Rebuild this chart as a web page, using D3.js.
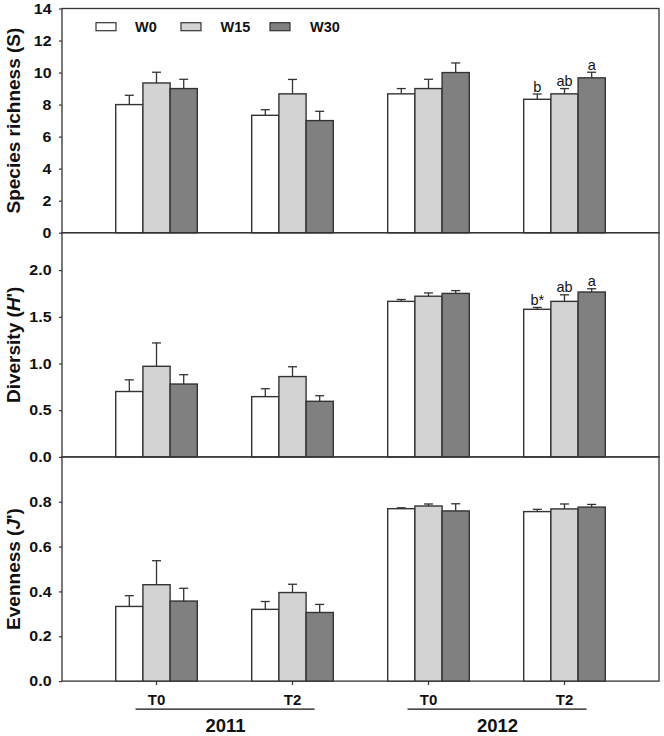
<!DOCTYPE html>
<html>
<head>
<meta charset="utf-8">
<script src="https://cdn.jsdelivr.net/npm/d3@7"></script>
<style>
  html, body { margin: 0; padding: 0; background: #fff; }
  svg { display: block; font-family: "Liberation Sans", Arial, sans-serif; }
</style>
</head>
<body>
<svg id="chart" width="664" height="736"></svg>
<script>
// ---- data ----
const groupKeys = ["2011-T0", "2011-T2", "2012-T0", "2012-T2"];
const groupLabels = ["T0", "T2", "T0", "T2"];
const years = ["2011", "2012"];
const series = ["W0", "W15", "W30"];
const seriesColors = ["#ffffff", "#d3d3d3", "#808080"];

const richness    = [[8.0, 9.35, 9.0], [7.33, 8.67, 7.0], [8.67, 9.0, 10.0], [8.33, 8.67, 9.67]];
const richnessErr = [[0.58, 0.67, 0.58], [0.35, 0.9, 0.58], [0.33, 0.58, 0.6], [0.33, 0.33, 0.35]];
const richnessLetters = [null, null, null, ["b", "ab", "a"]];

const diversity    = [[0.70, 0.97, 0.78], [0.645, 0.86, 0.595], [1.665, 1.72, 1.75], [1.58, 1.665, 1.765]];
const diversityErr = [[0.125, 0.25, 0.10], [0.085, 0.105, 0.06], [0.02, 0.035, 0.03], [0.02, 0.07, 0.035]];
const diversityLetters = [null, null, null, ["b*", "ab", "a"]];

const evenness    = [[0.333, 0.43, 0.357], [0.32, 0.395, 0.306], [0.769, 0.781, 0.759], [0.756, 0.768, 0.776]];
const evennessErr = [[0.048, 0.107, 0.057], [0.035, 0.037, 0.036], [0.004, 0.009, 0.032], [0.01, 0.022, 0.012]];

const richnessTicks  = [0, 2, 4, 6, 8, 10, 12, 14];
const diversityTicks = [0, 0.5, 1.0, 1.5, 2.0];
const evennessTicks  = [0, 0.2, 0.4, 0.6, 0.8];

// ---- layout ----
const svg = d3.select("#chart");
const left = 62, right = 659;
const panelTop = 8.5, panelH = 224.2;
const stroke = "#333";
const stretch = 1.1;

const x0 = d3.scaleBand().domain(groupKeys).range([left, right]).paddingInner(0.4).paddingOuter(0.395);
const x1 = d3.scaleBand().domain(series).range([0, x0.bandwidth()]).padding(0);

const panels = [
  { vals: richness, errs: richnessErr, letters: richnessLetters, max: 14, ticks: richnessTicks, fmt: d3.format("d"),
    title: [{ t: "Species richness (S)" }] },
  { vals: diversity, errs: diversityErr, letters: diversityLetters, max: 2.4, ticks: diversityTicks, fmt: d3.format(".1f"),
    title: [{ t: "Diversity (" }, { t: "H", i: true }, { t: "')" }] },
  { vals: evenness, errs: evennessErr, letters: null, max: 1.0, ticks: evennessTicks, fmt: d3.format(".1f"),
    title: [{ t: "Evenness (" }, { t: "J", i: true }, { t: "')" }] }
];

panels.forEach((p, pi) => {
  const top = panelTop + pi * panelH, bottom = top + panelH;
  const y = d3.scaleLinear().domain([0, p.max]).range([bottom, top]);
  const g = svg.append("g");

  // frame
  g.append("rect").attr("x", left).attr("y", top).attr("width", right - left).attr("height", panelH)
    .attr("fill", "none").attr("stroke", stroke).attr("stroke-width", 1.3);

  // y axis
  const ax = g.append("g").attr("transform", `translate(${left},0)`)
    .call(d3.axisLeft(y).tickValues(p.ticks).tickFormat(p.fmt).tickSize(3).tickPadding(7));
  ax.select(".domain").remove();
  ax.selectAll(".tick line").attr("stroke", stroke).attr("stroke-width", 1.2);
  ax.selectAll(".tick text").attr("font-size", 14.5).attr("font-weight", "bold").attr("fill", "#111")
    .attr("font-family", "Liberation Sans, Arial, sans-serif")
    .attr("x", -10.5 / stretch).attr("transform", `scale(${stretch},1)`);

  // bars
  groupKeys.forEach((gk, gi) => {
    const gg = g.append("g").attr("transform", `translate(${x0(gk)},0)`);
    series.forEach((s, si) => {
      const v = p.vals[gi][si], e = p.errs[gi][si];
      const bx = x1(s), bw = x1.bandwidth(), cx = bx + bw / 2;
      // error bar (upper)
      gg.append("line").attr("x1", cx).attr("x2", cx).attr("y1", y(v)).attr("y2", y(v + e))
        .attr("stroke", stroke).attr("stroke-width", 1.3);
      gg.append("line").attr("x1", cx - 4.5).attr("x2", cx + 4.5).attr("y1", y(v + e)).attr("y2", y(v + e))
        .attr("stroke", stroke).attr("stroke-width", 1.3);
      gg.append("rect").attr("x", bx).attr("y", y(v)).attr("width", bw).attr("height", y(0) - y(v))
        .attr("fill", seriesColors[si]).attr("stroke", stroke).attr("stroke-width", 1.4);
      if (p.letters && p.letters[gi]) {
        gg.append("text").attr("x", cx).attr("y", y(v + e) - 2.5).attr("text-anchor", "middle")
          .attr("font-size", 14.5).attr("fill", "#111").text(p.letters[gi][si]);
      }
    });
  });

  // axis title
  const tt = svg.append("text")
    .attr("transform", `translate(13,${(top + bottom) / 2}) rotate(-90)`)
    .attr("text-anchor", "middle").attr("dy", "0.35em")
    .attr("font-size", 19).attr("font-weight", "bold").attr("fill", "#111");
  p.title.forEach(part => {
    tt.append("tspan").attr("font-style", part.i ? "italic" : "normal").text(part.t);
  });
});

// x axis ticks & labels under bottom panel
const baseY = panelTop + 3 * panelH;
groupKeys.forEach((gk, gi) => {
  const cx = x0(gk) + x0.bandwidth() / 2;
  svg.append("line").attr("x1", cx).attr("x2", cx).attr("y1", baseY).attr("y2", baseY + 4)
    .attr("stroke", stroke).attr("stroke-width", 1.2);
  svg.append("text").attr("x", cx).attr("y", baseY + 24).attr("text-anchor", "middle")
    .attr("font-size", 15).attr("font-weight", "bold").attr("fill", "#111").text(groupLabels[gi]);
});

// year lines and labels
years.forEach((yr, yi) => {
  const a = x0(groupKeys[yi * 2]) + x0.bandwidth() / 2;
  const b = x0(groupKeys[yi * 2 + 1]) + x0.bandwidth() / 2;
  svg.append("line").attr("x1", a - 21).attr("x2", b + 22).attr("y1", baseY + 28).attr("y2", baseY + 28)
    .attr("stroke", "#111").attr("stroke-width", 1.3);
  svg.append("text").attr("x", (a + b) / 2 + 1).attr("y", baseY + 50.5).attr("text-anchor", "middle")
    .attr("font-size", 18.5).attr("font-weight", "bold").attr("fill", "#111").text(yr);
});

// legend
const legX = [96, 181, 270], legTxt = [135, 220.5, 310];
series.forEach((s, si) => {
  svg.append("rect").attr("x", legX[si]).attr("y", 22.7).attr("width", 20).attr("height", 8)
    .attr("fill", seriesColors[si]).attr("stroke", stroke).attr("stroke-width", 1.2);
  svg.append("text").attr("x", legTxt[si]).attr("y", 26.7).attr("dy", "0.35em")
    .attr("font-size", 14.5).attr("font-weight", "bold").attr("fill", "#111").text(s);
});
</script>
</body>
</html>
